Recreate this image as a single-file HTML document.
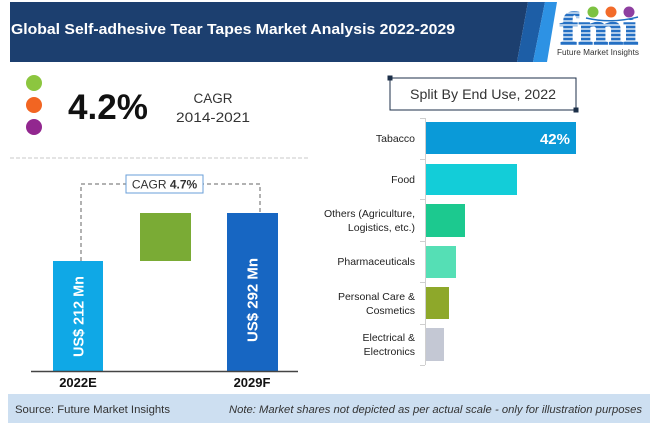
<!DOCTYPE html>
<html>
<head>
<meta charset="utf-8">
<style>
html,body{margin:0;padding:0;background:#fff;}
svg{display:block;}
text{font-family:"Liberation Sans",sans-serif;}
</style>
</head>
<body>
<svg width="650" height="423" viewBox="0 0 650 423" xmlns="http://www.w3.org/2000/svg">
<!-- header -->
<polygon points="10,2 528,2 517,62 10,62" fill="#1c3f6f"/>
<polygon points="528,2 545,2 533,62 517,62" fill="#1d5ea6"/>
<polygon points="545,2 557,2 547,62 533,62" fill="#2d92e4"/>
<text x="11" y="34" font-size="15" font-weight="bold" fill="#ffffff" textLength="444" lengthAdjust="spacingAndGlyphs">Global Self-adhesive Tear Tapes Market Analysis 2022-2029</text>
<!-- logo -->
<text x="560" y="44" font-size="46" font-weight="bold" fill="#2570c4" stroke="#2570c4" stroke-width="1.5" textLength="78" lengthAdjust="spacingAndGlyphs" style="font-family:'Liberation Serif',serif">fmi</text>
<g stroke="#ffffff" stroke-width="1.2">
<line x1="556" y1="13" x2="588" y2="13"/>
<line x1="556" y1="17" x2="588" y2="17"/>
<line x1="556" y1="21" x2="642" y2="21"/>
<line x1="556" y1="25" x2="642" y2="25"/>
<line x1="556" y1="29" x2="642" y2="29"/>
<line x1="556" y1="33" x2="642" y2="33"/>
<line x1="556" y1="37" x2="642" y2="37"/>
<line x1="556" y1="41" x2="642" y2="41"/>
</g>
<rect x="588" y="0" width="56" height="19" fill="#fff"/>
<circle cx="593" cy="12" r="5.5" fill="#7dc242"/>
<circle cx="611" cy="12" r="5.5" fill="#f26b2a"/>
<circle cx="629" cy="12" r="5.5" fill="#8e3fa0"/>
<path d="M586,18 Q612,24 638,17" stroke="#1f6fc0" stroke-width="1.5" fill="none"/>
<text x="557" y="55" font-size="8" fill="#333" textLength="82" lengthAdjust="spacingAndGlyphs">Future Market Insights</text>

<!-- CAGR block -->
<circle cx="34" cy="83" r="8" fill="#8cc63f"/>
<circle cx="34" cy="105" r="8" fill="#f26522"/>
<circle cx="34" cy="127" r="8" fill="#92278f"/>
<text x="68" y="119" font-size="35" font-weight="bold" fill="#111" textLength="80" lengthAdjust="spacingAndGlyphs">4.2%</text>
<text x="213" y="103" font-size="13.5" fill="#333" text-anchor="middle">CAGR</text>
<text x="213" y="122" font-size="14" fill="#333" text-anchor="middle" textLength="74" lengthAdjust="spacingAndGlyphs">2014-2021</text>
<line x1="10" y1="158" x2="310" y2="158" stroke="#c8c8c8" stroke-width="1" stroke-dasharray="4,2"/>

<!-- left chart -->
<rect x="53" y="261" width="50" height="110" fill="#0fa8e6"/>
<rect x="140" y="213" width="51" height="48" fill="#7aab35"/>
<rect x="227" y="213" width="51" height="158" fill="#1766c2"/>
<line x1="31" y1="371.5" x2="298" y2="371.5" stroke="#444" stroke-width="1.5"/>
<polyline points="81,261 81,184 260,184 260,213" fill="none" stroke="#666" stroke-width="1" stroke-dasharray="4,3"/>
<rect x="126" y="175" width="77" height="18" fill="#fff" stroke="#6a9fd8" stroke-width="1"/>
<text x="164.5" y="188.5" font-size="12" fill="#333" text-anchor="middle">CAGR <tspan font-weight="bold">4.7%</tspan></text>
<text transform="translate(83.5,316.5) rotate(-90)" font-size="15" font-weight="bold" fill="#fff" text-anchor="middle" textLength="81" lengthAdjust="spacingAndGlyphs">US$ 212 Mn</text>
<text transform="translate(257.5,300) rotate(-90)" font-size="15" font-weight="bold" fill="#fff" text-anchor="middle" textLength="84" lengthAdjust="spacingAndGlyphs">US$ 292 Mn</text>
<text x="78" y="387" font-size="13" font-weight="bold" fill="#111" text-anchor="middle">2022E</text>
<text x="252" y="387" font-size="13" font-weight="bold" fill="#111" text-anchor="middle">2029F</text>

<!-- right chart title -->
<rect x="390" y="78" width="186" height="32" fill="#fff" stroke="#1c2f48" stroke-width="1"/>
<rect x="387.5" y="75.5" width="5" height="5" fill="#1c2f48"/>
<rect x="573.5" y="107.5" width="5" height="5" fill="#1c2f48"/>
<text x="483" y="99" font-size="14" fill="#333" text-anchor="middle" textLength="146" lengthAdjust="spacingAndGlyphs">Split By End Use, 2022</text>

<!-- axis -->
<line x1="425.5" y1="118" x2="425.5" y2="365" stroke="#cfcfcf" stroke-width="1"/>
<g stroke="#cfcfcf" stroke-width="1">
<line x1="420" y1="118.5" x2="425" y2="118.5"/>
<line x1="420" y1="159.5" x2="425" y2="159.5"/>
<line x1="420" y1="199.5" x2="425" y2="199.5"/>
<line x1="420" y1="241.5" x2="425" y2="241.5"/>
<line x1="420" y1="282.5" x2="425" y2="282.5"/>
<line x1="420" y1="324.5" x2="425" y2="324.5"/>
<line x1="420" y1="365.5" x2="425" y2="365.5"/>
</g>
<!-- bars -->
<rect x="426" y="122" width="150" height="32" fill="#0a9ad8"/>
<rect x="426" y="164" width="91" height="31" fill="#13cdd8"/>
<rect x="426" y="204" width="39" height="33" fill="#1cc98f"/>
<rect x="426" y="246" width="30" height="32" fill="#55dfb5"/>
<rect x="426" y="287" width="23" height="32" fill="#8ea82a"/>
<rect x="426" y="328" width="18" height="33" fill="#c4c8d4"/>
<text x="570" y="144" font-size="15" font-weight="bold" fill="#fff" text-anchor="end">42%</text>
<!-- labels -->
<g font-size="10.5" fill="#222" text-anchor="end">
<text x="415" y="142">Tabacco</text>
<text x="415" y="183">Food</text>
<text x="415" y="217">Others (Agriculture,</text>
<text x="415" y="231">Logistics, etc.)</text>
<text x="415" y="265">Pharmaceuticals</text>
<text x="415" y="300">Personal Care &amp;</text>
<text x="415" y="314">Cosmetics</text>
<text x="415" y="341">Electrical &amp;</text>
<text x="415" y="355">Electronics</text>
</g>

<!-- footer -->
<rect x="8" y="394" width="642" height="29" fill="#cddff1"/>
<text x="15" y="413" font-size="11" fill="#333" textLength="155" lengthAdjust="spacingAndGlyphs">Source: Future Market Insights</text>
<text x="229" y="413" font-size="11" font-style="italic" fill="#333" textLength="413" lengthAdjust="spacingAndGlyphs">Note: Market shares not depicted as per actual scale - only for illustration purposes</text>
</svg>
</body>
</html>
